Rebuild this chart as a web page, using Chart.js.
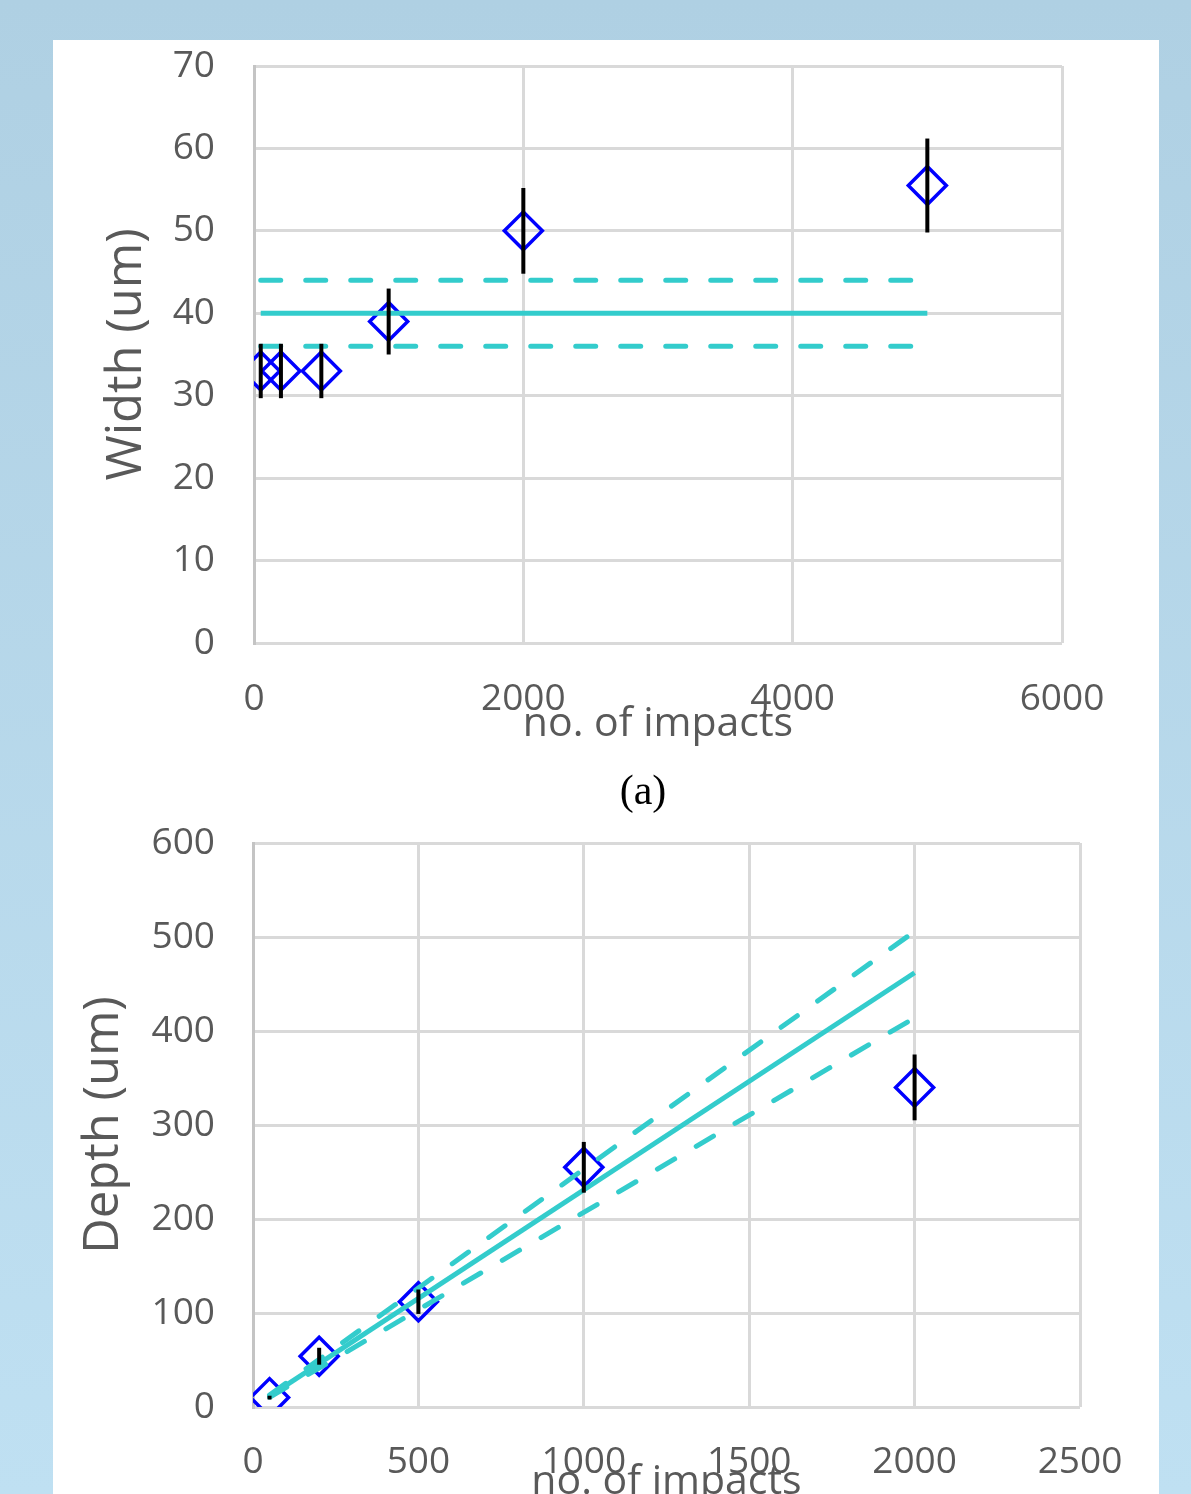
<!DOCTYPE html>
<html>
<head>
<meta charset="utf-8">
<script src="https://cdn.jsdelivr.net/npm/chart.js@4/dist/chart.umd.min.js"></script>
<style>
  html, body { margin:0; padding:0; }
  body { width:1191px; height:1494px; overflow:hidden; position:relative;
         background: linear-gradient(to bottom, #afd0e3 0%, #bfe0f2 100%); }
  #panel { position:absolute; left:53px; top:40px; width:1106px; height:1500px; background:#fff; }
  canvas { position:absolute; left:53px; }
  #c1 { top:40px; }
  #c2 { top:800px; }
  #lbl { position:absolute; left:543px; width:200px; top:764px; text-align:center;
         font-family:"Liberation Serif", "DejaVu Serif", serif; font-size:42px; line-height:52px; color:#000; }
</style>
</head>
<body>
<div id="panel"></div>
<canvas id="c1" width="1106" height="740"></canvas>
<div id="lbl">(a)</div>
<canvas id="c2" width="1106" height="760"></canvas>
<script>
// ---- Data: chart (a) width ----
const impactsA   = [50, 200, 500, 1000, 2000, 5000];
const widthA     = [33, 33, 33, 39, 50, 55.5];
const widthErrA  = [3.3, 3.3, 3.3, 4, 5.2, 5.7];
const fitXA      = [50, 5000];
const fitMeanA   = [40, 40];
const fitUpperA  = [44, 44];
const fitLowerA  = [36, 36];
const xTicksA    = [0, 2000, 4000, 6000];
const yTicksA    = [0, 10, 20, 30, 40, 50, 60, 70];

// ---- Data: chart (b) depth ----
const impactsB   = [50, 200, 500, 1000, 2000];
const depthB     = [10, 54, 112, 255, 340];
const depthErrB  = [2, 9, 13, 27, 35];
const fitXB      = [50, 2000];
const fitMeanB   = [11.5, 462];
const fitUpperB  = [12.7, 506];
const fitLowerB  = [10.4, 414];
const xTicksB    = [0, 500, 1000, 1500, 2000, 2500];
const yTicksB    = [0, 100, 200, 300, 400, 500, 600];

const FONT = "'Open Sans', 'Noto Sans', sans-serif";
const GRAY = '#595959';
const CYAN = '#33cccc';
const BLUE = '#0000ff';

const errorBars = {
  id: 'errorBars',
  afterDatasetsDraw(chart, args, opts) {
    const {ctx, scales: {x, y}} = chart;
    ctx.save();
    ctx.strokeStyle = '#000';
    ctx.lineWidth = 4;
    opts.xs.forEach((xv, i) => {
      const px = x.getPixelForValue(xv);
      const top = y.getPixelForValue(opts.ys[i] + opts.errs[i]);
      const bot = y.getPixelForValue(opts.ys[i] - opts.errs[i]);
      ctx.beginPath();
      ctx.moveTo(px, top);
      ctx.lineTo(px, bot);
      ctx.stroke();
    });
    ctx.restore();
  }
};

function pts(xs, ys) { return xs.map((v, i) => ({x: v, y: ys[i]})); }

function makeChart(id, cfg) {
  const lineDs = (xs, ys, dashed) => ({
    type: 'line', data: pts(xs, ys), borderColor: CYAN, borderWidth: 5,
    borderDash: dashed ? [20, 25] : [], borderCapStyle: dashed ? 'round' : 'butt',
    pointRadius: 0, fill: false, order: 1
  });
  return new Chart(document.getElementById(id), {
    type: 'line',
    data: {
      datasets: [
        { data: pts(cfg.xs, cfg.ys), showLine: false, pointStyle: 'rectRot',
          pointRadius: 19, pointBorderWidth: 3.5, pointBorderColor: BLUE,
          pointBackgroundColor: 'rgba(0,0,0,0)', order: 2 },
        lineDs(cfg.fitX, cfg.fitMean, false),
        lineDs(cfg.fitX, cfg.fitUpper, true),
        lineDs(cfg.fitX, cfg.fitLower, true)
      ]
    },
    options: {
      responsive: false, animation: false,
      layout: { padding: cfg.padding },
      plugins: { legend: {display:false}, tooltip: {enabled:false},
                 errorBars: { xs: cfg.xs, ys: cfg.ys, errs: cfg.errs } },
      scales: {
        x: {
          type: 'linear', min: cfg.xTicks[0], max: cfg.xTicks[cfg.xTicks.length-1],
          afterBuildTicks: s => { s.ticks = cfg.xTicks.map(v => ({value: v})); },
          afterFit: s => { s.height = cfg.xH; },
          grid: { color: '#d9d9d9', lineWidth: 3, drawTicks: false },
          border: { display: false },
          ticks: { color: GRAY, font: {family: FONT, size: 37}, padding: cfg.xPad, maxRotation: 0,
                   callback: v => String(v) },
          title: { display: true, text: 'no. of impacts', color: GRAY,
                   font: {family: FONT, size: 41}, padding: {top:0, bottom:0} }
        },
        y: {
          type: 'linear', min: cfg.yTicks[0], max: cfg.yTicks[cfg.yTicks.length-1],
          afterBuildTicks: s => { s.ticks = cfg.yTicks.map(v => ({value: v})); },
          afterFit: s => { s.width = cfg.yW; s.paddingTop = 0; s.paddingBottom = 0; },
          grid: { color: '#d9d9d9', lineWidth: 3, drawTicks: false },
          border: { display: true, color: '#c4c4c4', width: 3 },
          ticks: { color: GRAY, font: {family: FONT, size: 37}, padding: cfg.yPad,
                   callback: v => String(v) },
          title: { display: true, text: cfg.yTitle, color: GRAY,
                   font: {family: FONT, size: 49}, padding: {top: cfg.yTitlePad, bottom: 0} }
        }
      }
    },
    plugins: [errorBars]
  });
}

makeChart('c1', {
  xs: impactsA, ys: widthA, errs: widthErrA,
  fitX: fitXA, fitMean: fitMeanA, fitUpper: fitUpperA, fitLower: fitLowerA,
  xTicks: xTicksA, yTicks: yTicksA, yTitle: 'Width (um)',
  padding: {left: 0, top: 26, right: 97, bottom: 31},
  yW: 201, xH: 106, xPad: 34, yPad: 39, yTitlePad: 45
});

makeChart('c2', {
  xs: impactsB, ys: depthB, errs: depthErrB,
  fitX: fitXB, fitMean: fitMeanB, fitUpper: fitUpperB, fitLower: fitLowerB,
  xTicks: xTicksB, yTicks: yTicksB, yTitle: 'Depth (um)',
  padding: {left: 0, top: 43, right: 79, bottom: 53},
  yW: 200, xH: 100, xPad: 33, yPad: 38, yTitlePad: 22
});
</script>
</body>
</html>
